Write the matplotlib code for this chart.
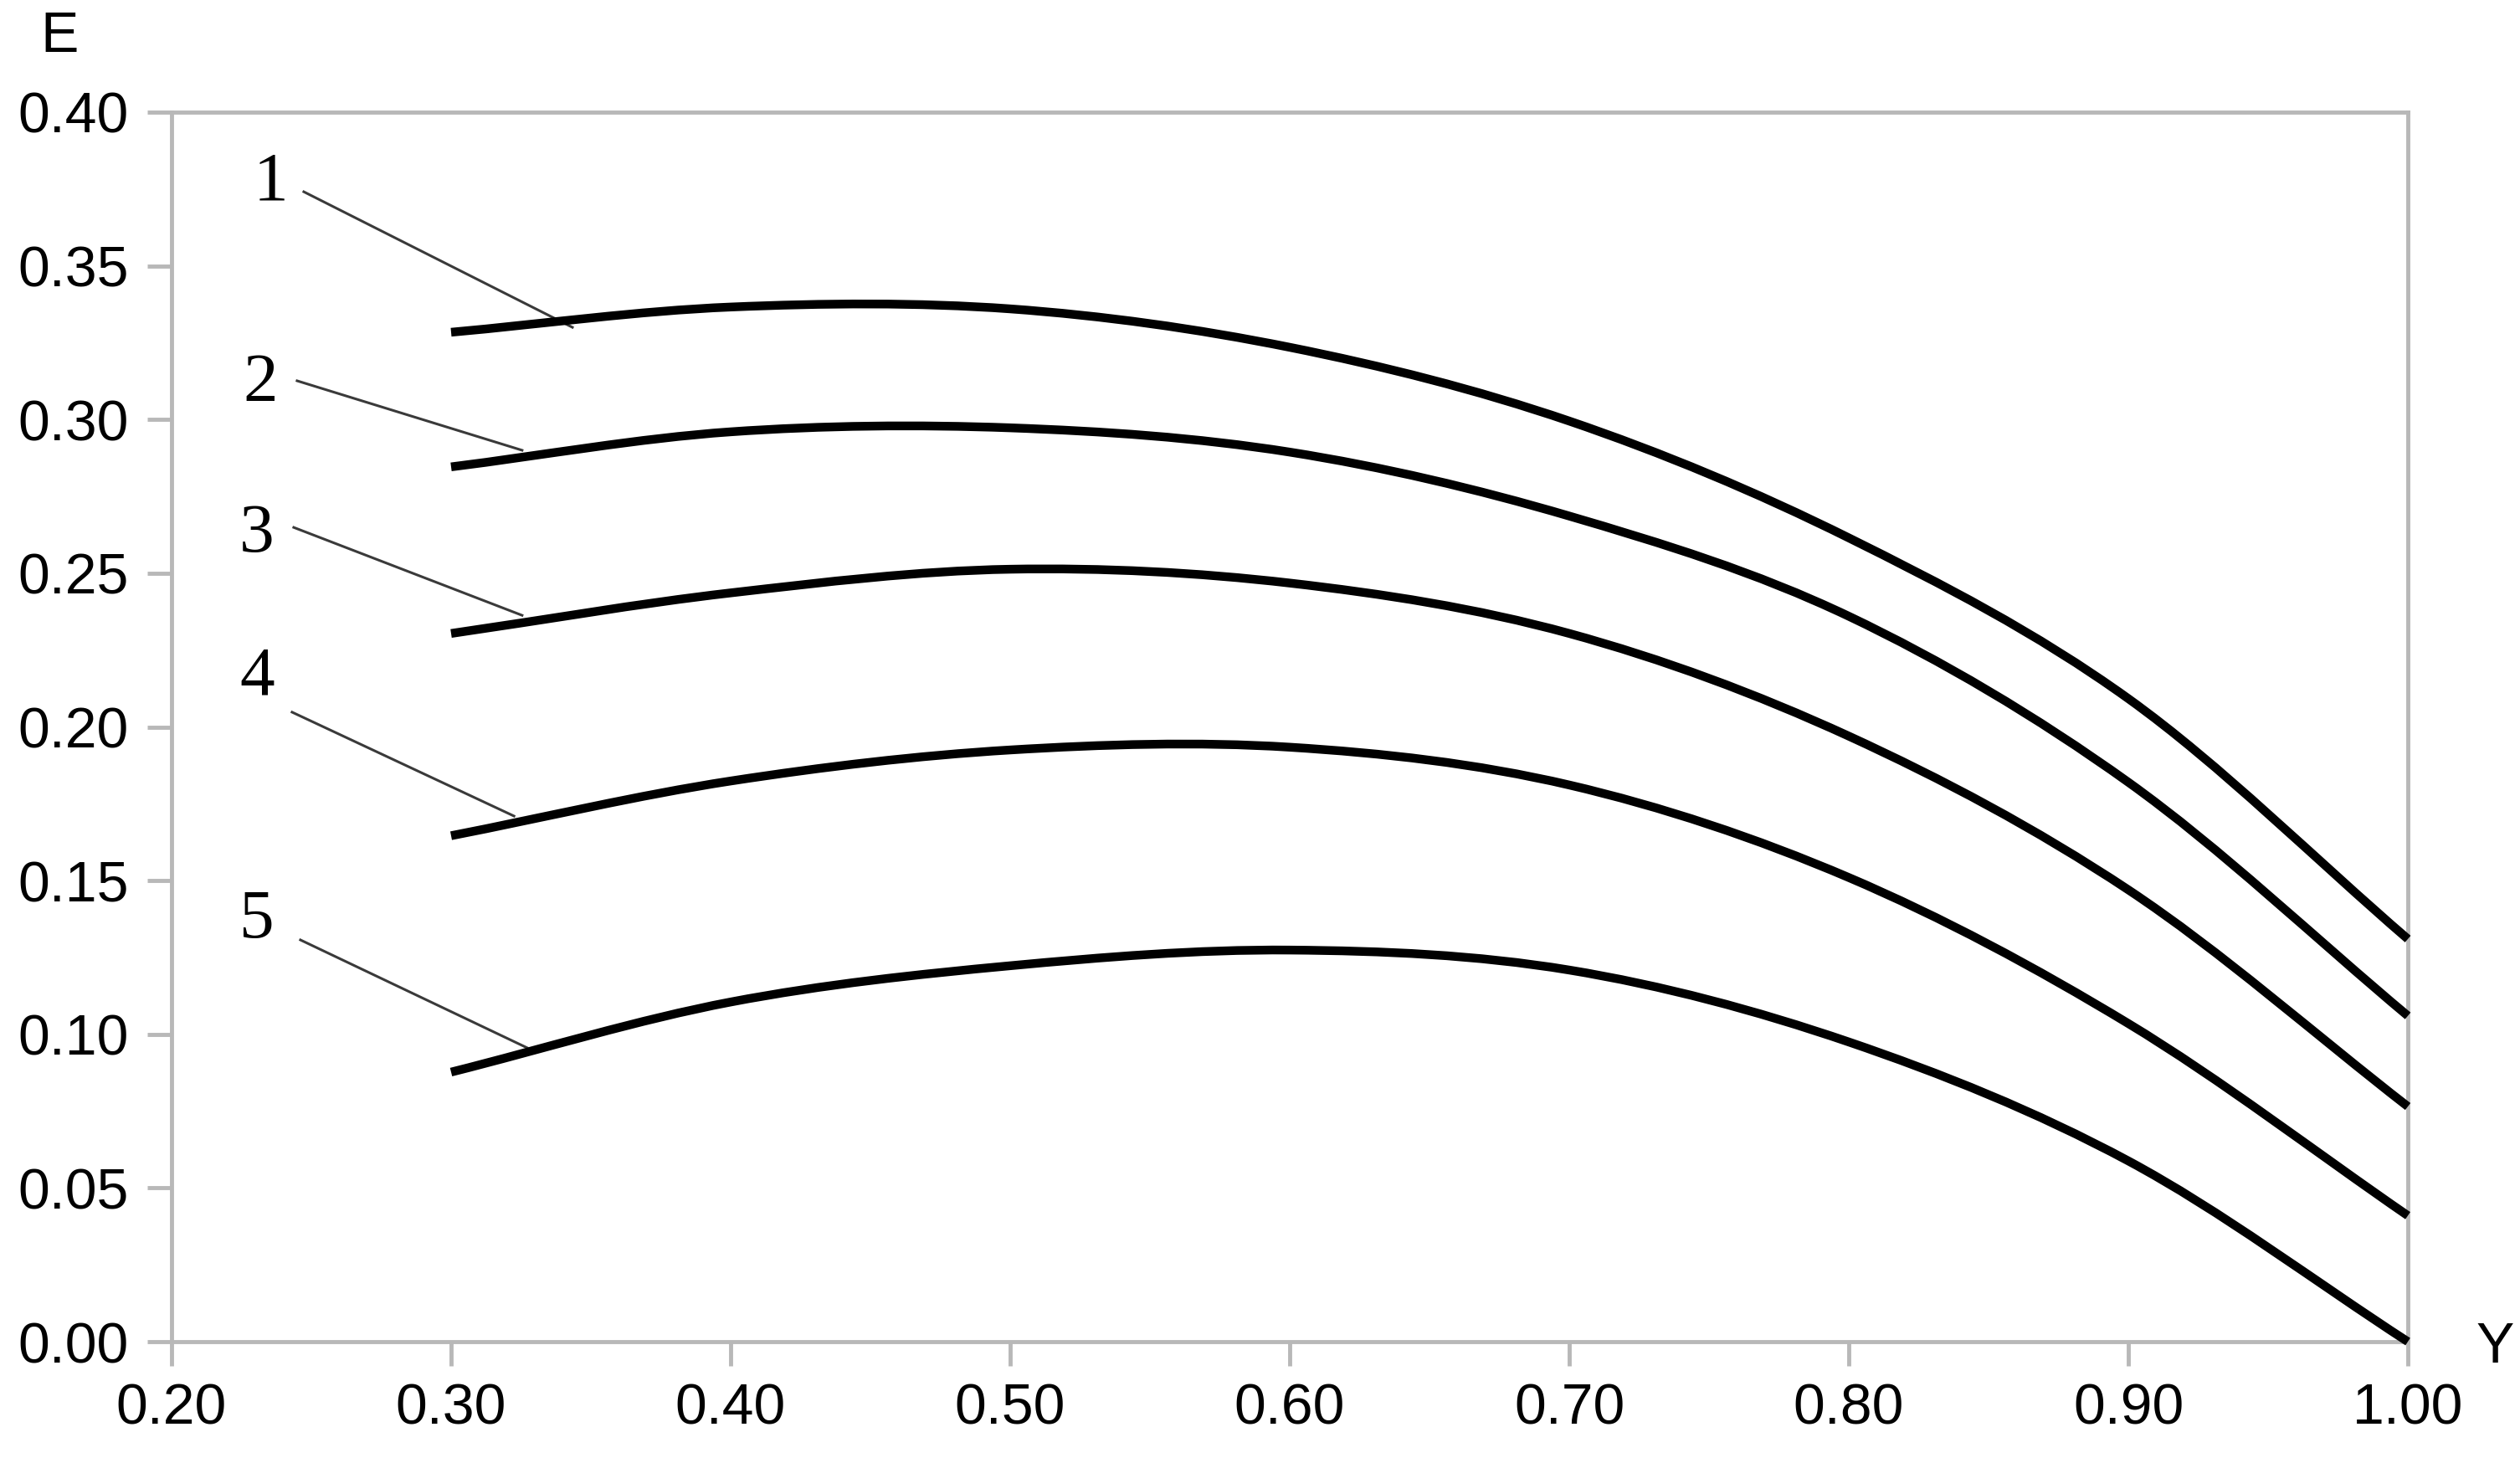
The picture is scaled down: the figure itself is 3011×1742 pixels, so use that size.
import numpy as np
import matplotlib
matplotlib.use("Agg")
import matplotlib.pyplot as plt
from matplotlib.path import Path
from matplotlib.patches import PathPatch

# values
gamma = [0.30, 0.40, 0.50, 0.60, 0.70, 0.80, 0.90, 1.00]
e_1 = [0.3284, 0.3366, 0.3360, 0.3235, 0.2995, 0.2615, 0.2092, 0.1310]
e_2 = [0.2846, 0.2960, 0.2973, 0.2894, 0.2686, 0.2360, 0.1820, 0.1060]
e_3 = [0.2304, 0.2436, 0.2513, 0.2468, 0.2304, 0.1970, 0.1470, 0.0765]
e_4 = [0.1646, 0.1824, 0.1925, 0.1934, 0.1811, 0.1510, 0.1035, 0.0410]
e_5 = [0.0877, 0.1105, 0.1223, 0.1274, 0.1209, 0.0975, 0.0588, 0.0000]

curve_names = ["1", "2", "3", "4", "5"]
# label position and leader line (from, to) in data units
label_pos = [(0.2356, 0.3769), (0.2317, 0.3115), (0.2305, 0.2625), (0.2305, 0.2159), (0.2305, 0.1370)]
leader_start = [(0.2473, 0.3741), (0.2449, 0.3126), (0.2437, 0.2649), (0.2431, 0.2048), (0.2461, 0.1307)]
leader_end = [(0.3434, 0.3300), (0.3254, 0.2900), (0.3254, 0.2363), (0.3225, 0.1710), (0.3272, 0.0956)]

x_ticks = [0.2, 0.3, 0.4, 0.5, 0.6, 0.7, 0.8, 0.9, 1.0]
y_ticks = [0.0, 0.05, 0.10, 0.15, 0.20, 0.25, 0.30, 0.35, 0.40]

GRAY = "#b8b8b8"
plt.rcParams["font.family"] = ["Liberation Sans", "DejaVu Sans"]


def smooth_path(xs, ys):
    # smoothed line like a spreadsheet chart: bezier segments through the points
    xs = np.asarray(xs, float)
    ys = np.asarray(ys, float)
    # phantom end points continue the first/last segment
    px = np.concatenate([[2 * xs[0] - xs[1]], xs, [2 * xs[-1] - xs[-2]]])
    py = np.concatenate([[2 * ys[0] - ys[1]], ys, [2 * ys[-1] - ys[-2]]])
    verts = [(xs[0], ys[0])]
    codes = [Path.MOVETO]
    for i in range(1, len(px) - 2):
        c1 = (px[i] + (px[i + 1] - px[i - 1]) / 6, py[i] + (py[i + 1] - py[i - 1]) / 6)
        c2 = (px[i + 1] - (px[i + 2] - px[i]) / 6, py[i + 1] - (py[i + 2] - py[i]) / 6)
        verts += [c1, c2, (px[i + 1], py[i + 1])]
        codes += [Path.CURVE4] * 3
    return Path(verts, codes)


fig = plt.figure(figsize=(30.11, 17.42), dpi=100)
ax = fig.add_axes([0.06808, 0.07979, 0.88742, 0.84329])

for e in [e_1, e_2, e_3, e_4, e_5]:
    patch = PathPatch(smooth_path(gamma, e), facecolor="none", edgecolor="black",
                      lw=7.5, capstyle="butt", clip_on=False, zorder=3)
    ax.add_patch(patch)

for name, lp, ls, le in zip(curve_names, label_pos, leader_start, leader_end):
    ax.plot([ls[0], le[0]], [ls[1], le[1]], color="#3a3a3a", lw=2.2, zorder=2)
    ax.text(lp[0], lp[1], name, fontsize=60, family=["Liberation Serif", "DejaVu Serif"],
            ha="center", va="center")

ax.set_xlim(0.2, 1.0)
ax.set_ylim(0.0, 0.4)
ax.set_xticks(x_ticks)
ax.set_yticks(y_ticks)
ax.set_xticklabels(["%.2f" % v for v in x_ticks])
ax.set_yticklabels(["%.2f" % v for v in y_ticks])
ax.tick_params(axis="both", direction="out", length=21, width=3.5, color=GRAY,
               labelsize=49, labelcolor="black")
ax.tick_params(axis="x", pad=14)
ax.tick_params(axis="y", pad=16)
for sp in ax.spines.values():
    sp.set_color(GRAY)
    sp.set_linewidth(3.5)

fig.text(0.0236, 0.9747, "E", fontsize=49, ha="center", va="center")
fig.text(0.990, 0.0758, "Y", fontsize=49, ha="center", va="center")

fig.savefig("out.png", dpi=100, facecolor="white")
